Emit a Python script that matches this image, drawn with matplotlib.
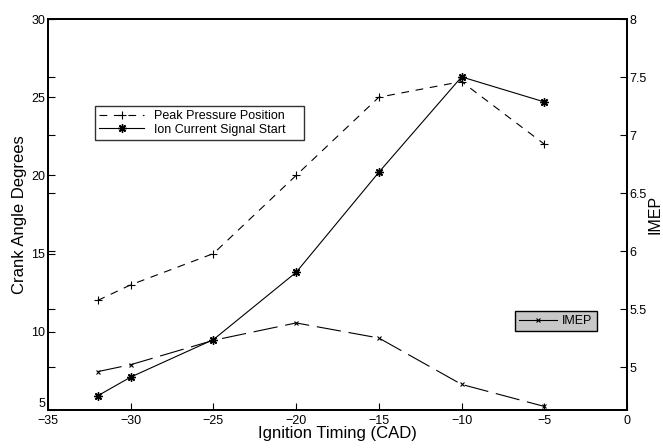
import numpy as np
import matplotlib.pyplot as plt
from matplotlib.lines import Line2D

plt.rcParams['font.family'] = ['Liberation Sans', 'DejaVu Sans']

# ignition timing (CAD)
timing = [-32, -30, -25, -20, -15, -10, -5]
# left axis: crank angle degrees
peak_pressure = [12, 13, 15, 20, 25, 26, 22]
ion_start = [5.9, 7.1, 9.5, 13.8, 20.2, 26.3, 24.7]
# right axis
imep = [4.96, 5.02, 5.23, 5.38, 5.25, 4.85, 4.66]

ASTERISK = (8, 2, 0)   # matlab style '*'

fig = plt.figure(figsize=(6.63, 4.48), dpi=100)
ax1 = fig.add_axes([0.0724, 0.085, 0.8733, 0.8725])
ax2 = ax1.twinx()

ax1.plot(timing, peak_pressure, color='k', lw=0.8, ls=(0, (7, 6)),
         marker='+', ms=6, mew=0.8, label='Peak Pressure Position    ')
ax1.plot(timing, ion_start, color='k', lw=0.8, ls='-',
         marker=ASTERISK, ms=6, mew=1.0, label='Ion Current Signal Start    ')
ax2.plot(timing, imep, color='k', lw=0.8, ls=(0, (22, 7)),
         marker='x', ms=3.5, mew=0.8)

ax1.set_xlim(-35, 0)
ax1.set_ylim(5, 30)
ax2.set_ylim(4.63, 8)
ax1.set_xticks(np.arange(-35, 1, 5))
ax1.set_yticks(np.arange(5, 31, 5))
ax2.set_yticks([5, 5.5, 6, 6.5, 7, 7.5, 8])
ax2.set_yticklabels(['5', '5.5', '6', '6.5', '7', '7.5', '8'])

ax1.tick_params(axis='both', direction='in', length=5, width=0.8,
                labelsize=9, pad=2)
ax1.tick_params(axis='x', pad=4)
ax2.tick_params(axis='y', direction='in', length=5, width=0.8,
                labelsize=9, pad=2, left=True, right=True,
                labelleft=False, labelright=True)
# bottom "5" sits just above the "-35" like in matlab
ax1.get_yticklabels()[0].set_va('bottom')

for ax in (ax1, ax2):
    for s in ax.spines.values():
        s.set_linewidth(1.3)

ax1.set_xlabel('Ignition Timing (CAD)', fontsize=12, labelpad=-1)
ax1.set_ylabel('Crank Angle Degrees', fontsize=12, labelpad=3)
ax2.set_ylabel('IMEP', fontsize=11.5, labelpad=0)

leg1 = ax1.legend(loc='upper left', bbox_to_anchor=(0.082, 0.777),
                  fontsize=9, frameon=True, fancybox=False, edgecolor='k',
                  handlelength=3.6, handletextpad=0.8, borderpad=0.3,
                  labelspacing=0.15, borderaxespad=0)
leg1.get_frame().set_linewidth(1.0)

imep_handle = Line2D([], [], color='k', lw=0.8, marker='x', ms=3.5, mew=0.8)
leg2 = ax2.legend([imep_handle], ['IMEP'], loc='upper left',
                  bbox_to_anchor=(0.8066, 0.254), fontsize=9, frameon=True,
                  fancybox=False, edgecolor='k', facecolor='#c8c8c8',
                  framealpha=1, handlelength=3.0, handletextpad=0.4,
                  borderpad=0.35, borderaxespad=0)
leg2.get_frame().set_linewidth(1.0)

fig.savefig('out.png', dpi=100)
